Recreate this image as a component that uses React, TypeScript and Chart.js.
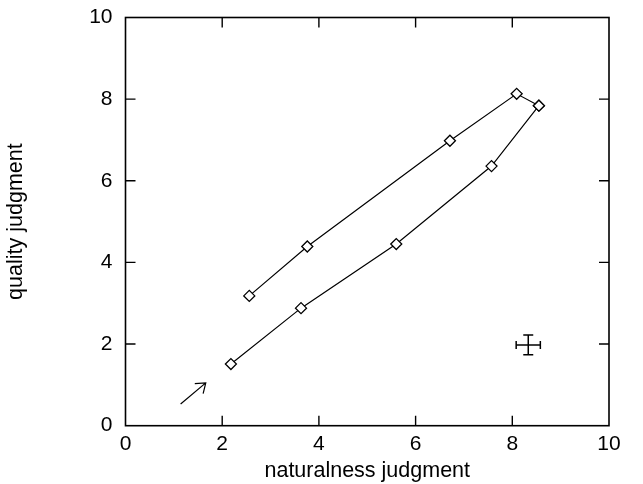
import React, { useEffect, useRef } from "react";
import { Chart, registerables } from "chart.js";

Chart.register(...registerables);

// Lower branch of the loop (naturalness, quality)
const lowerX = [2.18, 3.63, 5.6, 7.57, 8.55];
const lowerY = [1.51, 2.88, 4.45, 6.36, 7.84];
// Upper branch, starting from the shared right-most point
const upperX = [8.55, 8.09, 6.71, 3.76, 2.56];
const upperY = [7.84, 8.13, 6.98, 4.39, 3.18];

const tickValues = [0, 2, 4, 6, 8, 10];

// Error bar (center and half-widths)
const errCenter = [8.33, 1.98];
const errHalf = [0.25, 0.24];

// Arrow from / to (data coords)
const arrowFrom = [1.14, 0.53];
const arrowTo = [1.66, 1.05];

const FONT = "'Liberation Sans', Arial, Helvetica, sans-serif";

const framePlugin = {
  id: "frameAndExtras",
  afterDraw(chart: any) {
    const { ctx, chartArea: a, scales } = chart;
    const xs = scales.x;
    const ys = scales.y;
    ctx.save();
    ctx.strokeStyle = "#000";
    ctx.lineWidth = 1.6;
    ctx.strokeRect(a.left, a.top, a.right - a.left, a.bottom - a.top);
    const tl = 10;
    ctx.lineWidth = 1.4;
    ctx.beginPath();
    for (const v of tickValues) {
      if (v === 0 || v === 10) continue;
      const px = xs.getPixelForValue(v);
      ctx.moveTo(px, a.bottom);
      ctx.lineTo(px, a.bottom - tl);
      ctx.moveTo(px, a.top);
      ctx.lineTo(px, a.top + tl);
      const py = ys.getPixelForValue(v);
      ctx.moveTo(a.left, py);
      ctx.lineTo(a.left + tl, py);
      ctx.moveTo(a.right, py);
      ctx.lineTo(a.right - tl, py);
    }
    ctx.stroke();

    // error bar
    const cx = xs.getPixelForValue(errCenter[0]);
    const cy = ys.getPixelForValue(errCenter[1]);
    const x1 = xs.getPixelForValue(errCenter[0] - errHalf[0]);
    const x2 = xs.getPixelForValue(errCenter[0] + errHalf[0]);
    const y1 = ys.getPixelForValue(errCenter[1] - errHalf[1]);
    const y2 = ys.getPixelForValue(errCenter[1] + errHalf[1]);
    ctx.lineWidth = 1.5;
    ctx.beginPath();
    ctx.moveTo(x1, cy);
    ctx.lineTo(x2, cy);
    ctx.moveTo(x1, cy - 4);
    ctx.lineTo(x1, cy + 4);
    ctx.moveTo(x2, cy - 4);
    ctx.lineTo(x2, cy + 4);
    ctx.moveTo(cx, y1);
    ctx.lineTo(cx, y2);
    ctx.moveTo(cx - 5, y1);
    ctx.lineTo(cx + 5, y1);
    ctx.moveTo(cx - 5, y2);
    ctx.lineTo(cx + 5, y2);
    ctx.stroke();

    // arrow
    const ax1 = xs.getPixelForValue(arrowFrom[0]);
    const ay1 = ys.getPixelForValue(arrowFrom[1]);
    const ax2 = xs.getPixelForValue(arrowTo[0]);
    const ay2 = ys.getPixelForValue(arrowTo[1]);
    const ang = Math.atan2(ay2 - ay1, ax2 - ax1);
    const hl = 11;
    const spread = Math.PI / 5;
    ctx.lineWidth = 1.2;
    ctx.beginPath();
    ctx.moveTo(ax1, ay1);
    ctx.lineTo(ax2, ay2);
    ctx.moveTo(ax2 - hl * Math.cos(ang - spread), ay2 - hl * Math.sin(ang - spread));
    ctx.lineTo(ax2, ay2);
    ctx.lineTo(ax2 - hl * Math.cos(ang + spread), ay2 - hl * Math.sin(ang + spread));
    ctx.stroke();
    ctx.restore();
  },
};

export default function App() {
  const ref = useRef<HTMLCanvasElement | null>(null);
  useEffect(() => {
    if (!ref.current) return;
    const mk = (xs: number[], ys: number[]) => xs.map((x, i) => ({ x, y: ys[i] }));
    const ds = (label: string, data: any) => ({
      label,
      data,
      showLine: true,
      borderColor: "#000",
      borderWidth: 1.2,
      tension: 0,
      pointStyle: "rectRot",
      pointRadius: 5.5,
      pointBorderWidth: 1.3,
      pointBorderColor: "#000",
      pointBackgroundColor: "#fff",
    });
    const chart = new Chart(ref.current, {
      type: "scatter",
      data: {
        datasets: [ds("upper", mk(upperX, upperY)), ds("lower", mk(lowerX, lowerY))],
      },
      plugins: [framePlugin],
      options: {
        responsive: false,
        animation: false,
        layout: { padding: { top: 17.5, right: 34, left: 0, bottom: 0 } },
        plugins: { legend: { display: false }, tooltip: { enabled: false } },
        scales: {
          x: {
            type: "linear",
            min: 0,
            max: 10,
            afterBuildTicks: (s: any) => {
              s.ticks = tickValues.map((v) => ({ value: v }));
            },
            afterFit: (s: any) => {
              s.height = 58.3;
              s.paddingLeft = 0;
              s.paddingRight = 0;
            },
            grid: { display: false, drawTicks: false },
            border: { display: false },
            ticks: { color: "#000", padding: 6, font: { family: FONT, size: 21 } },
            title: {
              display: true,
              text: "naturalness judgment",
              color: "#000",
              font: { family: FONT, size: 21.5 },
              padding: { top: 0, bottom: 0 },
            },
          },
          y: {
            type: "linear",
            min: 0,
            max: 10,
            afterBuildTicks: (s: any) => {
              s.ticks = tickValues.map((v) => ({ value: v }));
            },
            afterFit: (s: any) => {
              s.width = 125.5;
              s.paddingTop = 0;
              s.paddingBottom = 0;
            },
            grid: { display: false, drawTicks: false },
            border: { display: false },
            ticks: { color: "#000", padding: 13, font: { family: FONT, size: 21 } },
            title: {
              display: true,
              text: "quality judgment",
              color: "#000",
              font: { family: FONT, size: 21.5 },
              padding: { top: 3, bottom: 0 },
            },
          },
        },
      } as any,
    });
    return () => chart.destroy();
  }, []);
  return (
    <div style={{ position: "absolute", left: 0, top: 0, width: 643, height: 484, background: "#fff" }}>
      <canvas ref={ref} width={643} height={484} />
    </div>
  );
}
